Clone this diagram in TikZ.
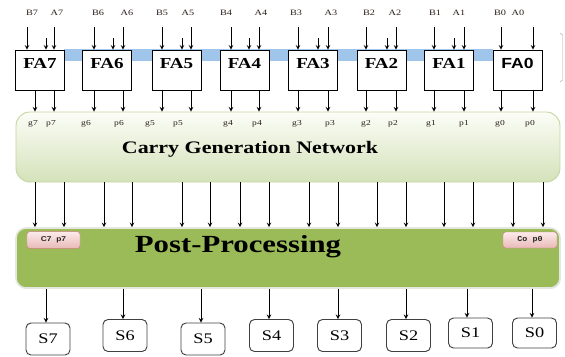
\documentclass[tikz,border=0pt]{standalone}
\usepackage{fontspec}
\usepackage{tikz}
\usetikzlibrary{arrows,shapes,positioning,shadows}
\newfontfamily\wideserif{Liberation Serif}[FakeStretch=1.25]
\newfontfamily\widesans{Liberation Sans}[FakeStretch=1.2]
\newfontfamily\widemono{Liberation Mono}[FakeStretch=1.1]
\definecolor{cgblue}{RGB}{160,197,235}
\definecolor{cgtop}{RGB}{252,253,247}
\definecolor{cgbottom}{RGB}{212,226,186}
\definecolor{cgborder}{RGB}{196,215,160}
\definecolor{ppgreen}{RGB}{155,187,89}
\definecolor{ppborder}{RGB}{228,231,222}
\definecolor{pinktop}{RGB}{252,234,234}
\definecolor{pinkbottom}{RGB}{232,186,184}
\definecolor{pinkborder}{RGB}{205,128,128}
\definecolor{labelink}{RGB}{40,30,25}
\tikzstyle{arrow} = [->,>=stealth,line width=0.75pt]
\tikzstyle{adder} = [rectangle, draw, line width=0.6pt, fill=white, minimum width=1.47cm, minimum height=1.2cm, text depth=0.42cm, font=\wideserif\fontsize{13}{14}\selectfont\bfseries]
\tikzstyle{bitlabel} = [inner sep=1pt, text=labelink, font=\wideserif\fontsize{7}{8}\selectfont]
\tikzstyle{sumbox} = [rectangle, rounded corners=0.15cm, draw=black!75, line width=0.8pt, fill=white, minimum width=1.32cm, minimum height=0.96cm, font=\wideserif\fontsize{12.5}{14}\selectfont]
\tikzstyle{tag} = [rectangle, rounded corners=0.08cm, draw=pinkborder, top color=pinktop, bottom color=pinkbottom, minimum height=0.5cm, inner sep=1pt, text=black!85]

\begin{document}
\begin{tikzpicture}[x=0.03cm, y=-0.03cm]
\useasboundingbox (0,0) rectangle (565,356);

% Blue carry band behind the adders
\fill[cgblue] (64,49) rectangle (493,61);
\draw[black!35, line width=0.4pt] (560,33) -- (562.5,35) -- (562.5,80) -- (560,82);

% Full adders
\node (fa7) [adder] at (40,70) {FA7};
\node (fa6) [adder] at (107,70) {FA6};
\node (fa5) [adder] at (176.5,70) {FA5};
\node (fa4) [adder] at (244.5,70) {FA4};
\node (fa3) [adder] at (313,70) {FA3};
\node (fa2) [adder] at (381.5,70) {FA2};
\node (fa1) [adder] at (449,70) {FA1};
\node (fa0) [adder, font=\widesans\fontsize{12.5}{14}\selectfont\bfseries] at (517.5,70) {FA0};

% Operand bits
\node (b7) [bitlabel] at (32,13) {B7};
\node (a7) [bitlabel] at (57,13) {A7};
\node (b6) [bitlabel] at (98,13) {B6};
\node (a6) [bitlabel] at (127,13) {A6};
\node (b5) [bitlabel] at (162,13) {B5};
\node (a5) [bitlabel] at (188,13) {A5};
\node (b4) [bitlabel] at (226,13) {B4};
\node (a4) [bitlabel] at (261,13) {A4};
\node (b3) [bitlabel] at (296,13) {B3};
\node (a3) [bitlabel] at (331,13) {A3};
\node (b2) [bitlabel] at (369,13) {B2};
\node (a2) [bitlabel] at (395,13) {A2};
\node (b1) [bitlabel] at (435,13) {B1};
\node (a1) [bitlabel] at (459,13) {A1};
\node (b0) [bitlabel] at (500,13) {B0};
\node (a0) [bitlabel] at (518,13) {A0};

% Inputs into the adders
\path (27,27) edge[arrow] (27,0 |- fa7.north) (46,38) edge[arrow] (46,0 |- fa7.north) (54,27) edge[arrow] (54,0 |- fa7.north);
\path (94,27) edge[arrow] (94,0 |- fa6.north) (113,38) edge[arrow] (113,0 |- fa6.north) (123,27) edge[arrow] (123,0 |- fa6.north);
\path (162,27) edge[arrow] (162,0 |- fa5.north) (182,38) edge[arrow] (182,0 |- fa5.north) (191,27) edge[arrow] (191,0 |- fa5.north);
\path (231,27) edge[arrow] (231,0 |- fa4.north) (249,38) edge[arrow] (249,0 |- fa4.north) (259,27) edge[arrow] (259,0 |- fa4.north);
\path (298,27) edge[arrow] (298,0 |- fa3.north) (318,38) edge[arrow] (318,0 |- fa3.north) (328,27) edge[arrow] (328,0 |- fa3.north);
\path (366,27) edge[arrow] (366,0 |- fa2.north) (387,38) edge[arrow] (387,0 |- fa2.north) (396,27) edge[arrow] (396,0 |- fa2.north);
\path (434,27) edge[arrow] (434,0 |- fa1.north) (454,38) edge[arrow] (454,0 |- fa1.north) (464,27) edge[arrow] (464,0 |- fa1.north);
\path (501,27) edge[arrow] (501,0 |- fa0.north) (533,27) edge[arrow] (533,0 |- fa0.north);

% Carry generation network
\node (cgn) [rectangle, rounded corners=0.42cm, draw=cgborder, line width=0.8pt, top color=cgtop, bottom color=cgbottom, minimum width=16.32cm, minimum height=2.1cm] at (288,147) {};
\node (cgntext) [font=\wideserif\fontsize{15}{17}\selectfont\bfseries] at (250,149) {Carry Generation Network};
\node (g7) [bitlabel, font=\wideserif\fontsize{6.5}{8}\selectfont] at (33,124) {g7};
\node (p7) [bitlabel, font=\wideserif\fontsize{6.5}{8}\selectfont] at (51,124) {p7};
\node (g6) [bitlabel, font=\wideserif\fontsize{6.5}{8}\selectfont] at (86,124) {g6};
\node (p6) [bitlabel, font=\wideserif\fontsize{6.5}{8}\selectfont] at (119,124) {p6};
\node (g5) [bitlabel, font=\wideserif\fontsize{6.5}{8}\selectfont] at (150,124) {g5};
\node (p5) [bitlabel, font=\wideserif\fontsize{6.5}{8}\selectfont] at (178,124) {p5};
\node (g4) [bitlabel, font=\wideserif\fontsize{6.5}{8}\selectfont] at (228,124) {g4};
\node (p4) [bitlabel, font=\wideserif\fontsize{6.5}{8}\selectfont] at (257,124) {p4};
\node (g3) [bitlabel, font=\wideserif\fontsize{6.5}{8}\selectfont] at (297,124) {g3};
\node (p3) [bitlabel, font=\wideserif\fontsize{6.5}{8}\selectfont] at (330,124) {p3};
\node (g2) [bitlabel, font=\wideserif\fontsize{6.5}{8}\selectfont] at (366,124) {g2};
\node (p2) [bitlabel, font=\wideserif\fontsize{6.5}{8}\selectfont] at (393,124) {p2};
\node (g1) [bitlabel, font=\wideserif\fontsize{6.5}{8}\selectfont] at (431,124) {g1};
\node (p1) [bitlabel, font=\wideserif\fontsize{6.5}{8}\selectfont] at (464,124) {p1};
\node (g0) [bitlabel, font=\wideserif\fontsize{6.5}{8}\selectfont] at (500,124) {g0};
\node (p0) [bitlabel, font=\wideserif\fontsize{6.5}{8}\selectfont] at (530,124) {p0};

% Generate and propagate signals
\path (35,0 |- fa7.south) edge[arrow] (35,0 |- cgn.north) (54,0 |- fa7.south) edge[arrow] (54,0 |- cgn.north);
\path (94,0 |- fa6.south) edge[arrow] (94,0 |- cgn.north) (123,0 |- fa6.south) edge[arrow] (123,0 |- cgn.north);
\path (162,0 |- fa5.south) edge[arrow] (162,0 |- cgn.north) (191,0 |- fa5.south) edge[arrow] (191,0 |- cgn.north);
\path (231,0 |- fa4.south) edge[arrow] (231,0 |- cgn.north) (259,0 |- fa4.south) edge[arrow] (259,0 |- cgn.north);
\path (298,0 |- fa3.south) edge[arrow] (298,0 |- cgn.north) (328,0 |- fa3.south) edge[arrow] (328,0 |- cgn.north);
\path (366,0 |- fa2.south) edge[arrow] (366,0 |- cgn.north) (396,0 |- fa2.south) edge[arrow] (396,0 |- cgn.north);
\path (434,0 |- fa1.south) edge[arrow] (434,0 |- cgn.north) (464,0 |- fa1.south) edge[arrow] (464,0 |- cgn.north);
\path (501,0 |- fa0.south) edge[arrow] (501,0 |- cgn.north) (533,0 |- fa0.south) edge[arrow] (533,0 |- cgn.north);

% Post-processing
\node (pp) [rectangle, rounded corners=0.3cm, draw=ppborder, line width=1.4pt, fill=ppgreen, drop shadow={shadow xshift=0.6pt, shadow yshift=-0.8pt, opacity=0.25}, minimum width=16.32cm, minimum height=1.8cm] at (288,258) {};
\node (pptext) [font=\wideserif\fontsize{21}{24}\selectfont\bfseries] at (238,247) {Post-Processing};
\node (cseven) [tag, minimum width=1.59cm, font=\widesans\fontsize{6}{7}\selectfont\bfseries] at (53.5,240) {C7\ \ p7};
\node (czero) [tag, minimum width=1.62cm, minimum height=0.48cm, font=\widemono\fontsize{6.5}{7}\selectfont\bfseries] at (530,240) {Co~p0};

% Carries into post-processing
\path (35,0 |- cgn.south) edge[arrow] (35,0 |- pp.north) (64,0 |- cgn.south) edge[arrow] (64,0 |- pp.north) (104,0 |- cgn.south) edge[arrow] (104,0 |- pp.north) (132,0 |- cgn.south) edge[arrow] (132,0 |- pp.north);
\path (182,0 |- cgn.south) edge[arrow] (182,0 |- pp.north) (210,0 |- cgn.south) edge[arrow] (210,0 |- pp.north) (240,0 |- cgn.south) edge[arrow] (240,0 |- pp.north) (269,0 |- cgn.south) edge[arrow] (269,0 |- pp.north);
\path (309,0 |- cgn.south) edge[arrow] (309,0 |- pp.north) (338,0 |- cgn.south) edge[arrow] (338,0 |- pp.north) (377,0 |- cgn.south) edge[arrow] (377,0 |- pp.north) (406,0 |- cgn.south) edge[arrow] (406,0 |- pp.north);
\path (444,0 |- cgn.south) edge[arrow] (444,0 |- pp.north) (473,0 |- cgn.south) edge[arrow] (473,0 |- pp.north) (513,0 |- cgn.south) edge[arrow] (513,0 |- pp.north) (543,0 |- cgn.south) edge[arrow] (543,0 |- pp.north);

% Sum bits
\node (s7) [sumbox] at (48,339) {S7};
\node (s6) [sumbox] at (125,335.5) {S6};
\node (s5) [sumbox] at (203,339) {S5};
\node (s4) [sumbox] at (271.5,335.5) {S4};
\node (s3) [sumbox] at (339.5,335.5) {S3};
\node (s2) [sumbox] at (408.5,335.5) {S2};
\node (s1) [sumbox, minimum height=0.9cm] at (470.5,333) {S1};
\node (s0) [sumbox, minimum height=0.9cm] at (534.5,333) {S0};

\draw[arrow] (46,0 |- pp.south) -- (46,0 |- s7.north);
\draw[arrow] (123,0 |- pp.south) -- (123,0 |- s6.north);
\draw[arrow] (201,0 |- pp.south) -- (201,0 |- s5.north);
\draw[arrow] (269,0 |- pp.south) -- (269,0 |- s4.north);
\draw[arrow] (338,0 |- pp.south) -- (338,0 |- s3.north);
\draw[arrow] (406,0 |- pp.south) -- (406,0 |- s2.north);
\draw[arrow] (467,0 |- pp.south) -- (467,0 |- s1.north);
\draw[arrow] (532,0 |- pp.south) -- (532,0 |- s0.north);
\end{tikzpicture}
\end{document}
